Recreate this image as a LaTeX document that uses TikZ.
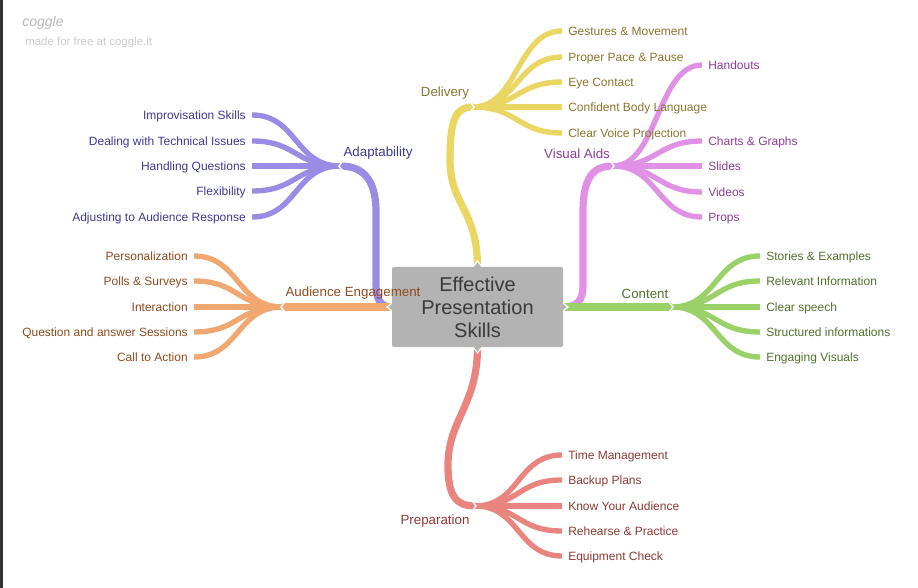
\documentclass[tikz,border=0pt]{standalone}
\usepackage{fontspec}
\setmainfont{Liberation Sans}
\usetikzlibrary{backgrounds}
\definecolor{yel}{HTML}{EAD663}\definecolor{yelT}{HTML}{8A7630}
\definecolor{pnk}{HTML}{E091E6}\definecolor{pnkT}{HTML}{8D3F96}
\definecolor{grn}{HTML}{9BD169}\definecolor{grnT}{HTML}{52702F}
\definecolor{sal}{HTML}{E9857E}\definecolor{salT}{HTML}{8E3A33}
\definecolor{pur}{HTML}{9A8CE5}\definecolor{purT}{HTML}{3D3A91}
\definecolor{org}{HTML}{F0A770}\definecolor{orgT}{HTML}{8E4C1F}
\definecolor{boxg}{HTML}{B3B3B3}\definecolor{boxT}{HTML}{3A3A3A}
\begin{document}
\begin{tikzpicture}[x=0.75pt,y=-0.75pt,
  brM/.style={line width=5.4pt},
  brC/.style={line width=4pt},
  leafR/.style={anchor=west, inner xsep=4.5pt, inner ysep=0pt, text height=8pt, text depth=1.3pt, font=\fontsize{9}{11}\selectfont},
  leafL/.style={anchor=east, inner xsep=4.5pt, inner ysep=0pt, text height=8pt, text depth=1.3pt, font=\fontsize{9}{11}\selectfont},
  lab/.style={inner sep=1pt, font=\fontsize{10}{12}\selectfont},
  chev/.style={white, line width=1.1pt},
  bump/.style={fill=boxg, draw=white, line width=0.9pt},
  rootbox/.style={fill=boxg, rounded corners=1.5pt, minimum width=128.25pt, minimum height=60pt,
     align=center, text=boxT, inner sep=0pt, font=\fontsize{15}{17.25}\selectfont}]
\useasboundingbox (0,0) rectangle (918,588);

% logo
\node[font=\itshape\fontsize{10.5}{12}\selectfont, text=black!28] (logo) at (43,23) {coggle};
\node[anchor=west, inner sep=0pt, font=\fontsize{8.6}{10}\selectfont, text=black!20] (made) at (25,43) {made for free at coggle.it};

% root anchor points
\coordinate (rN) at (477.5,267);
\coordinate (rS) at (477.5,347);
\coordinate (rE) at (563,307);
\coordinate (rW) at (392,307);

% junctions
\coordinate (jDel) at (473,107);
\coordinate (jVis) at (613,166);
\coordinate (jCon) at (672,307);
\coordinate (jPre) at (475,506);
\coordinate (jAda) at (340,166);
\coordinate (jAud) at (282,307);

% leaf nodes
\node[leafR, text=yelT] (d1) at (562,31) {Gestures \& Movement};
\node[leafR, text=yelT] (d2) at (562,57) {Proper Pace \& Pause};
\node[leafR, text=yelT] (d3) at (562,82) {Eye Contact};
\node[leafR, text=yelT] (d4) at (562,107) {Confident Body Language};
\node[leafR, text=yelT] (d5) at (562,133) {Clear Voice Projection};

\node[leafR, text=pnkT] (v1) at (702,65) {Handouts};
\node[leafR, text=pnkT] (v2) at (702,141) {Charts \& Graphs};
\node[leafR, text=pnkT] (v3) at (702,166) {Slides};
\node[leafR, text=pnkT] (v4) at (702,192) {Videos};
\node[leafR, text=pnkT] (v5) at (702,217) {Props};

\node[leafR, text=grnT] (c1) at (760,256) {Stories \& Examples};
\node[leafR, text=grnT] (c2) at (760,281) {Relevant Information};
\node[leafR, text=grnT] (c3) at (760,307) {Clear speech};
\node[leafR, text=grnT] (c4) at (760,332) {Structured informations};
\node[leafR, text=grnT] (c5) at (760,357) {Engaging Visuals};

\node[leafR, text=salT] (p1) at (562,455) {Time Management};
\node[leafR, text=salT] (p2) at (562,480) {Backup Plans};
\node[leafR, text=salT] (p3) at (562,506) {Know Your Audience};
\node[leafR, text=salT] (p4) at (562,531) {Rehearse \& Practice};
\node[leafR, text=salT] (p5) at (562,556) {Equipment Check};

\node[leafL, text=purT] (a1) at (252,115) {Improvisation Skills};
\node[leafL, text=purT] (a2) at (252,141) {Dealing with Technical Issues};
\node[leafL, text=purT] (a3) at (252,166) {Handling Questions};
\node[leafL, text=purT] (a4) at (252,191) {Flexibility};
\node[leafL, text=purT] (a5) at (252,217) {Adjusting to Audience Response};

\node[leafL, text=orgT] (e1) at (194,256) {Personalization};
\node[leafL, text=orgT] (e2) at (194,281) {Polls \& Surveys};
\node[leafL, text=orgT] (e3) at (194,307) {Interaction};
\node[leafL, text=orgT] (e4) at (194,332) {Question and answer Sessions};
\node[leafL, text=orgT] (e5) at (194,357) {Call to Action};

\begin{pgfonlayer}{background}
\fill[white] (0,0) rectangle (918,588);
\fill[black!80] (0,0) rectangle (3,588);

% child branches
\foreach \n in {d1,d2,d3,d4,d5}
  \draw[brC, yel] (jDel) .. controls +(45,0) and +(-45,0) .. (\n.west);
\foreach \n in {v1,v2,v3,v4,v5}
  \draw[brC, pnk] (jVis) .. controls +(45,0) and +(-45,0) .. (\n.west);
\foreach \n in {c1,c2,c3,c4,c5}
  \draw[brC, grn] (jCon) .. controls +(45,0) and +(-45,0) .. (\n.west);
\foreach \n in {p1,p2,p3,p4,p5}
  \draw[brC, sal] (jPre) .. controls +(45,0) and +(-45,0) .. (\n.west);
\foreach \n in {a1,a2,a3,a4,a5}
  \draw[brC, pur] (jAda) .. controls +(-45,0) and +(45,0) .. (\n.east);
\foreach \n in {e1,e2,e3,e4,e5}
  \draw[brC, org] (jAud) .. controls +(-45,0) and +(45,0) .. (\n.east);

% main branches
\draw[brM, yel] (rN) .. controls (477.5,210) and (450,205) .. (450,160)
   .. controls (450,118) and (456,107) .. (jDel);
\draw[brM, sal] (rS) .. controls (477.5,405) and (448,420) .. (448,465)
   .. controls (448,496) and (456,506) .. (jPre);
\draw[brM, pnk] (rE) .. controls (578,307) and (583,300) .. (583,285)
   -- (583,212) .. controls (583,176) and (594,166) .. (jVis);
\draw[brM, pur] (rW) .. controls (381,307) and (376,300) .. (376,285)
   -- (376,212) .. controls (376,176) and (360,166) .. (jAda);
\draw[brM, grn] (rE) -- (jCon);
\draw[brM, org] (rW) -- (jAud);

% chevrons at junctions
\foreach \j in {jDel,jVis,jCon,jPre}
  \draw[chev] ([shift={(-3,-5.5)}]\j) -- ([shift={(1,0)}]\j) -- ([shift={(-3,5.5)}]\j);
\foreach \j in {jAda,jAud}
  \draw[chev] ([shift={(3,-5.5)}]\j) -- ([shift={(-1,0)}]\j) -- ([shift={(3,5.5)}]\j);

% bumps on the box
\draw[bump] (470,271) -- (477.5,261) -- (485,271) -- cycle;
\draw[bump] (470,343) -- (477.5,353) -- (485,343) -- cycle;
\draw[bump] (559,300) -- (568,307) -- (559,314) -- cycle;
\draw[bump] (396,300) -- (387,307) -- (396,314) -- cycle;
\end{pgfonlayer}

% root box
\node[rootbox] (root) at (477.5,307) {Effective\\Presentation\\Skills};

% branch labels
\node[lab, text=yelT] (lDel) at (445,93.5) {Delivery};
\node[lab, text=pnkT] (lVis) at (577,153.5) {Visual Aids};
\node[lab, text=grnT] (lCon) at (645,293.5) {Content};
\node[lab, text=salT] (lPre) at (435,521.5) {Preparation};
\node[lab, text=purT] (lAda) at (378,153.5) {Adaptability};
\node[lab, text=orgT] (lAud) at (353,293.5) {Audience Engagement};
\end{tikzpicture}
\end{document}
